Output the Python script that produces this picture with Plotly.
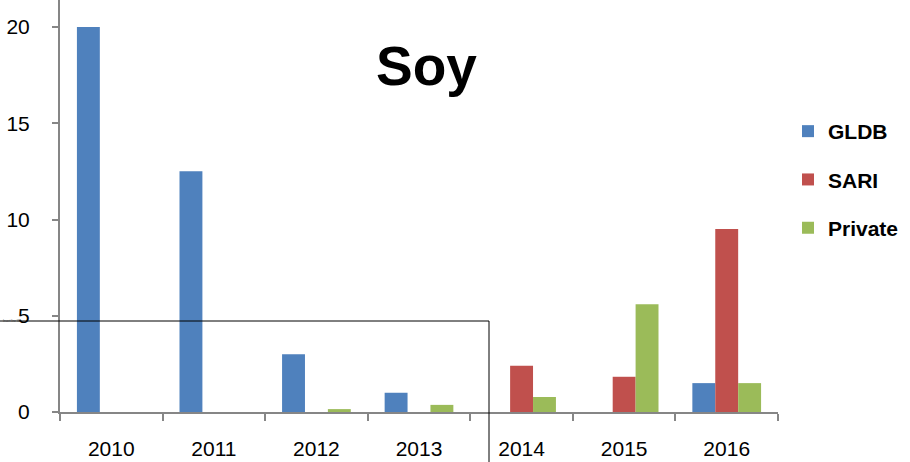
import plotly.graph_objects as go

years = ["2010", "2011", "2012", "2013", "2014", "2015", "2016"]
gldb = [20, 12.5, 3, 1, 0, 0, 1.5]
sari = [0, 0, 0, 0, 2.4, 1.83, 9.5]
private = [0, 0, 0.15, 0.37, 0.78, 5.6, 1.5]

series = [("GLDB", gldb, "#4F81BD"), ("SARI", sari, "#C0504D"), ("Private", private, "#9BBB59")]

fig = go.Figure()
for name, vals, col in series:
    fig.add_trace(go.Bar(x=years, y=vals, name="<b>" + name + "</b>",
                         marker=dict(color=col, line=dict(width=0)), legendgroup=name))

W, H = 910, 462
L, R, T, B = 60, 132, 0, 50
pw, ph = W - L - R, H - T - B

def px(x):
    return (x - L) / pw

def py(y):
    return (H - B - y) / ph

font = "Liberation Sans, Arial, sans-serif"
fig.update_layout(
    width=W, height=H,
    margin=dict(l=L, r=R, t=T, b=B, autoexpand=False),
    paper_bgcolor="white", plot_bgcolor="white",
    barmode="group", bargap=0.33, bargroupgap=0,
    font=dict(family=font, size=20, color="black"),
    showlegend=True,
    legend=dict(x=px(788), y=py(111), xanchor="left", yanchor="top",
                font=dict(size=21, color="black", family=font),
                tracegroupgap=18, itemwidth=30),
    annotations=[
        dict(text="<b>Soy</b>", x=px(426), y=py(33), xref="paper", yref="paper",
             xanchor="center", yanchor="top",
             showarrow=False, font=dict(size=55, family=font, color="black")),
        dict(text="Insert line file.", x=px(1), y=py(325), xref="paper", yref="paper",
             xanchor="left", showarrow=False, font=dict(size=3, color="#333")),
    ],
    shapes=[
        dict(type="line", xref="paper", yref="paper", x0=px(0), x1=px(489), y0=py(321), y1=py(321),
             line=dict(color="black", width=1), layer="above"),
        dict(type="line", xref="paper", yref="paper", x0=px(489), x1=px(489), y0=py(321), y1=py(462),
             line=dict(color="black", width=1), layer="above"),
    ],
)
fig.update_yaxes(range=[0, 412 / 19.25], tickvals=[0, 5, 10, 15, 20], showgrid=False,
                 showline=True, linecolor="#868686", linewidth=2, ticks="outside",
                 ticklen=6, tickcolor="#868686", tickwidth=2, zeroline=False, automargin=False,
                 ticklabelstandoff=18, tickfont=dict(size=21))
fig.update_xaxes(showgrid=False, showline=True, linecolor="#868686", linewidth=2, automargin=False,
                 ticks="outside", tickson="boundaries", ticklen=7, tickcolor="#868686",
                 tickwidth=2, ticklabelstandoff=17, tickfont=dict(size=21))

fig.write_html("out.html", config={"displayModeBar": False},
               post_script="document.body.style.margin='0';")
